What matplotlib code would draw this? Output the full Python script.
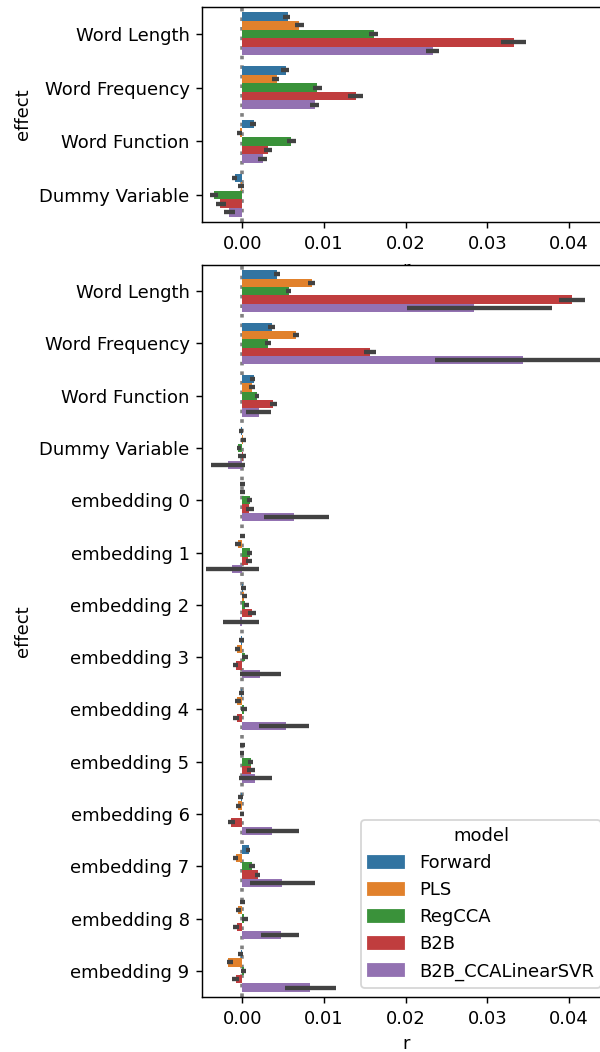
import numpy as np
import matplotlib
matplotlib.use('Agg')
from matplotlib import pyplot as plt
from matplotlib.patches import Patch

models = ['Forward', 'PLS', 'RegCCA', 'B2B', 'B2B_CCALinearSVR']
colors = ['#3274a1', '#e1812c', '#3a923a', '#c03d3e', '#9372b2']

top_effects = ['Word Length', 'Word Frequency', 'Word Function', 'Dummy Variable']
bottom_effects = top_effects + ['embedding %d' % i for i in range(10)]

# one row per model, one column per effect
top_mean = [
    [0.0056, 0.0053, 0.0014, -0.0009],
    [0.0070, 0.0042, -0.0003, -0.0001],
    [0.0161, 0.0092, 0.0060, -0.0035],
    [0.0332, 0.0139, 0.0032, -0.0027],
    [0.0233, 0.0089, 0.0025, -0.0016],
]
top_lo = [
    [0.0050, 0.0048, 0.0010, -0.0013],
    [0.0065, 0.0037, -0.0007, -0.0005],
    [0.0155, 0.0087, 0.0055, -0.0040],
    [0.0316, 0.0129, 0.0027, -0.0032],
    [0.0225, 0.0083, 0.0019, -0.0022],
]
top_hi = [
    [0.0059, 0.0057, 0.0017, -0.0006],
    [0.0075, 0.0045, 0.0000, 0.0002],
    [0.0166, 0.0097, 0.0066, -0.0030],
    [0.0347, 0.0148, 0.0036, -0.0020],
    [0.0241, 0.0094, 0.0030, -0.0009],
]

bottom_mean = [
    [0.0043, 0.0037, 0.0014, -0.0001, 0.0000, 0.0000, 0.0001, -0.0001, -0.0001, 0.0000, -0.0001, 0.0008, 0.0000, -0.0002],
    [0.0085, 0.0066, 0.0012, 0.0001, 0.0000, -0.0005, 0.0002, -0.0007, -0.0006, 0.0000, -0.0005, -0.0008, -0.0005, -0.0017],
    [0.0057, 0.0031, 0.0018, -0.0005, 0.0010, 0.0010, 0.0003, 0.0003, 0.0002, 0.0011, 0.0000, 0.0012, 0.0002, 0.0002],
    [0.0403, 0.0156, 0.0038, 0.0001, 0.0008, 0.0007, 0.0012, -0.0008, -0.0007, 0.0011, -0.0014, 0.0019, -0.0007, -0.0008],
    [0.0283, 0.0344, 0.0020, -0.0018, 0.0063, -0.0012, -0.0003, 0.0022, 0.0053, 0.0015, 0.0037, 0.0049, 0.0047, 0.0083],
]
bottom_lo = [
    [0.0039, 0.0032, 0.0010, -0.0004, -0.0003, -0.0003, -0.0001, -0.0004, -0.0004, -0.0003, -0.0005, 0.0004, -0.0003, -0.0005],
    [0.0080, 0.0062, 0.0008, -0.0002, -0.0003, -0.0009, -0.0000, -0.0009, -0.0009, -0.0003, -0.0008, -0.0011, -0.0008, -0.0019],
    [0.0053, 0.0028, 0.0015, -0.0007, 0.0006, 0.0006, 0.0002, 0.0000, -0.0001, 0.0007, -0.0003, 0.0008, 0.0000, -0.0002],
    [0.0388, 0.0149, 0.0034, -0.0005, 0.0004, 0.0004, 0.0007, -0.0011, -0.0011, 0.0006, -0.0018, 0.0015, -0.0011, -0.0012],
    [0.0202, 0.0236, 0.0004, -0.0038, 0.0027, -0.0044, -0.0024, -0.0003, 0.0020, -0.0004, 0.0005, 0.0010, 0.0023, 0.0052],
]
bottom_hi = [
    [0.0046, 0.0040, 0.0016, 0.0001, 0.0003, 0.0003, 0.0005, 0.0002, 0.0002, 0.0003, 0.0001, 0.0009, 0.0003, 0.0001],
    [0.0089, 0.0070, 0.0015, 0.0004, 0.0003, -0.0002, 0.0006, -0.0003, -0.0002, 0.0002, -0.0002, -0.0005, -0.0002, -0.0011],
    [0.0060, 0.0035, 0.0021, -0.0001, 0.0012, 0.0012, 0.0008, 0.0007, 0.0006, 0.0013, 0.0002, 0.0015, 0.0007, 0.0005],
    [0.0419, 0.0164, 0.0042, 0.0004, 0.0014, 0.0012, 0.0017, -0.0005, -0.0004, 0.0016, -0.0009, 0.0022, -0.0004, -0.0004],
    [0.0379, 0.0450, 0.0035, 0.0003, 0.0106, 0.0021, 0.0020, 0.0048, 0.0082, 0.0037, 0.0070, 0.0089, 0.0070, 0.0115],
]

plt.rcParams['font.size'] = 10
fig = plt.figure(figsize=(600/130, 1052/130), dpi=130)
# axes run past the right edge of the picture, like the cropped original
ax1 = fig.add_axes([0.337, 0.789, 0.6797, 0.2044])
ax2 = fig.add_axes([0.337, 0.0523, 0.6797, 0.6958])


def draw(ax, effects, mean, lo, hi):
    y = np.arange(len(effects))
    h = 0.8 / len(models)
    ax.axvline(0, color='grey', ls=':', lw=2, zorder=0.5)
    for i, m in enumerate(models):
        pos = y - 0.4 + h * (i + 0.5)
        mu = np.array(mean[i])
        err = [mu - np.array(lo[i]), np.array(hi[i]) - mu]
        ax.barh(pos, mu, height=h, color=colors[i], label=m, zorder=2)
        ax.errorbar(mu, pos, xerr=err, fmt='none', ecolor='#424242',
                    elinewidth=2.4, capsize=0, zorder=3)
    ax.set_yticks(y)
    ax.set_yticklabels(effects)
    ax.set_ylim(len(effects) - 0.5, -0.5)
    ax.set_xlim(-0.0049, 0.045)
    ax.set_xticks([0, 0.01, 0.02, 0.03, 0.04])
    ax.set_xticklabels(['0.00', '0.01', '0.02', '0.03', '0.04'])
    ax.set_ylabel('effect')
    ax.set_xlabel('r')


draw(ax1, top_effects, top_mean, top_lo, top_hi)
draw(ax2, bottom_effects, bottom_mean, bottom_lo, bottom_hi)

handles = [Patch(color=c) for c in colors]
ax2.legend(handles, models, title='model', loc='lower right')

fig.savefig('out.png', dpi=130)
